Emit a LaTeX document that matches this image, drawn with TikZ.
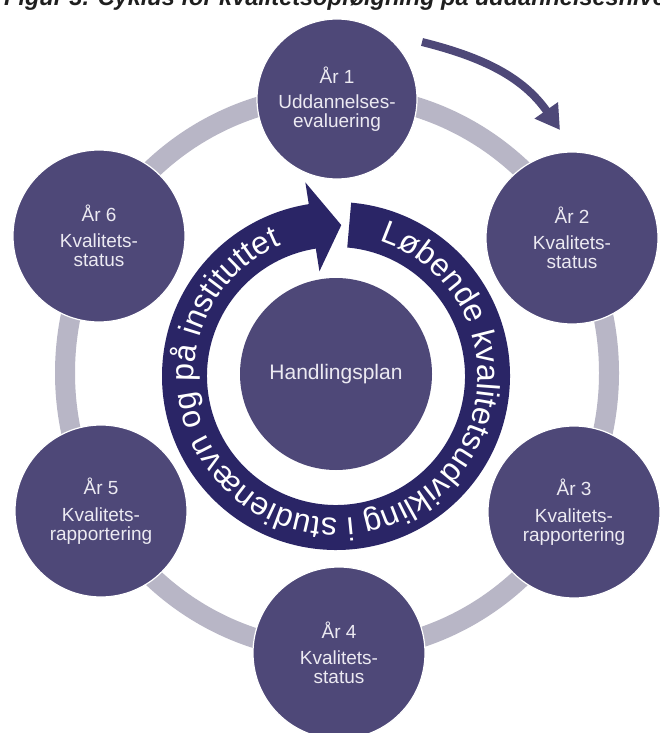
\documentclass[tikz,border=0pt]{standalone}
\usepackage{fontspec}
\setmainfont{Liberation Sans}
\usetikzlibrary{decorations.text, arrows.meta, calc}
\definecolor{circfill}{HTML}{4E4878}
\definecolor{bandcol}{HTML}{2A2566}
\definecolor{ringgray}{HTML}{B8B6C6}
\definecolor{circtext}{HTML}{ECEAF2}
\newcommand\ringtxtfont{\fontsize{32}{32}\selectfont}
\begin{document}
\begin{tikzpicture}[x=1pt,y=1pt,
  yearnode/.style={circle, fill=circfill, draw=white, line width=1.2pt, minimum size=172pt, inner sep=0pt, text=circtext, font=\fontsize{19}{19}\selectfont, align=center},
  centernode/.style={circle, fill=circfill, minimum size=192pt, inner sep=0pt, text=circtext, font=\fontsize{21}{21}\selectfont},
  cyclearrow/.style={draw=circfill, line width=8pt, -{Triangle[width=27pt,length=24pt]}},
  titletext/.style={anchor=base west, inner sep=0pt, text=black!88, font=\fontsize{23.5}{23.5}\selectfont\bfseries\itshape}]
\useasboundingbox (0,0) rectangle (660,-733);
\clip (0,0) rectangle (660,-733);
\fill[white] (0,0) rectangle (660,-733);
\node[titletext] (title) at (4,-6) {Figur 3. Cyklus for kvalitetsopfølgning på uddannelsesniveau};
% gray ring
\draw[ringgray, line width=20pt] (337,-373) ellipse [x radius=272, y radius=278];
% year circles
\node[yearnode, minimum size=160pt] (y1) at (337,-99) {År 1\\[6pt]Uddannelses-\\evaluering};
\node[yearnode] (y2) at (572,-238) {År 2\\[7.5pt]Kvalitets-\\status};
\node[yearnode] (y3) at (574,-512) {År 3\\[7.5pt]Kvalitets-\\rapportering};
\node[yearnode] (y4) at (339,-653) {År 4\\[7.5pt]Kvalitets-\\status};
\node[yearnode] (y5) at (101,-511) {År 5\\[7.5pt]Kvalitets-\\rapportering};
\node[yearnode] (y6) at (99,-236) {År 6\\[7.5pt]Kvalitets-\\status};
% outer arrow
\coordinate (a0) at (422,-42);
\coordinate (a1) at (560,-130);
\draw[cyclearrow] (a0) to[out=-14, in=125] (a1);
% central band arrow
\coordinate (C) at (336,-376);
\fill[bandcol] ($(C)+(85:174)$) arc[start angle=85, end angle=-261, radius=174]
  -- ($(C)+(99:196)$) -- ($(C)+(88:151)$) -- ($(C)+(99:106)$) -- ($(C)+(99:129)$)
  arc[start angle=-261, end angle=85, radius=129] -- cycle;
\path[decorate, decoration={text along path, text={|\ringtxtfont|Løbende kvalitetsudvikling i studienævn og på instituttet}, text color=white, text align=left}]
  ($(C)+(72:142)$) arc[start angle=72, end angle=-248, radius=142];
% center
\node[centernode] (hp) at (336,-374) {Handlingsplan};
\end{tikzpicture}
\end{document}
